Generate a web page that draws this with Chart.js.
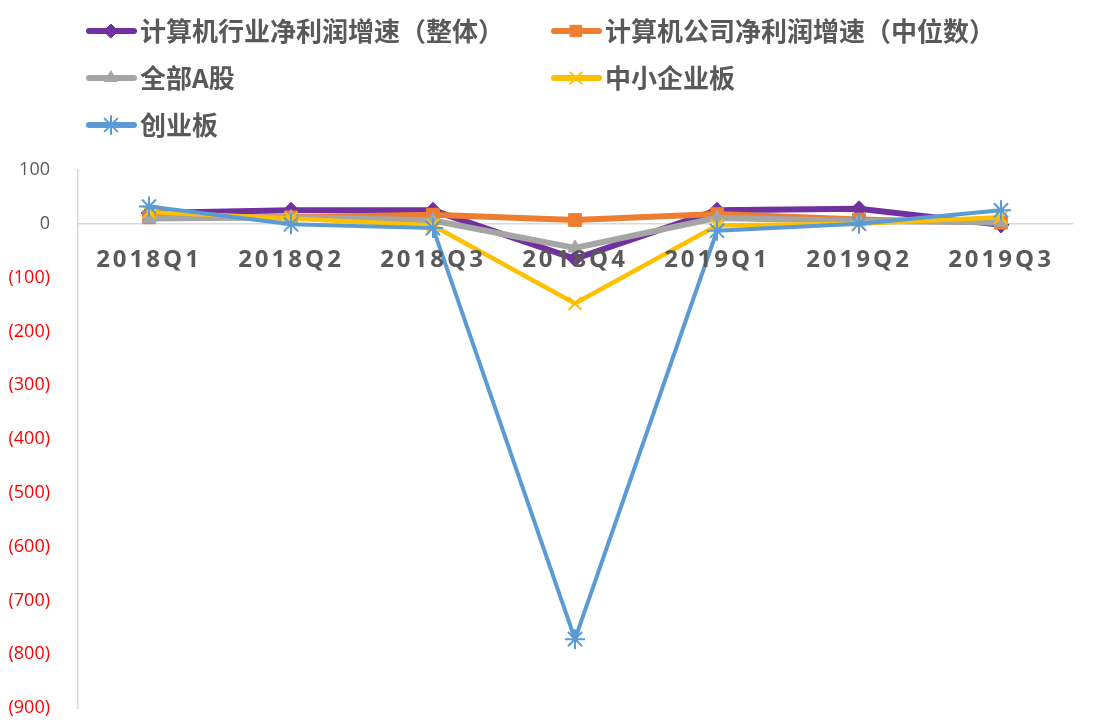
<!DOCTYPE html>
<html>
<head>
<meta charset="utf-8">
<script src="https://cdn.jsdelivr.net/npm/chart.js@4"></script>
<style>
  html, body { margin: 0; padding: 0; background: #fff; }
  #wrap { width: 1109px; height: 720px; }
</style>
</head>
<body>
<div id="wrap"><canvas id="c" width="1109" height="720"></canvas></div>
<script>
// categories
const quarters = ['2018Q1', '2018Q2', '2018Q3', '2018Q4', '2019Q1', '2019Q2', '2019Q3'];

// series (profit growth, %)
const industryTotal = [20, 25, 25, -65, 25, 28, -2];
const companyMedian = [12, 12, 17, 7, 18, 8, 2];
const allAShares = [10, 12, 6, -45, 11, 5, 3];
const smeBoard = [22, 10, -3, -148, -3, 0, 12];
const chinext = [32, -1, -8, -772, -13, 0, 25];

const seriesNames = ['计算机行业净利润增速（整体）', '计算机公司净利润增速（中位数）', '全部A股', '中小企业板', '创业板'];
const seriesColors = ['#7030A0', '#ED7D31', '#A5A5A5', '#FFC000', '#5B9BD5'];

// y ticks
const yMin = -900, yMax = 100, yStep = 100;

var TEXT = '#595959';

function mk(i, data, style, radius, width) {
  return {
    label: seriesNames[i],
    data: data,
    borderColor: seriesColors[i],
    backgroundColor: seriesColors[i],
    borderWidth: width,
    pointStyle: style,
    pointRadius: radius,
    pointHoverRadius: radius,
    pointBorderWidth: (style === 'crossRot' || style === 'star') ? 2 : 1,
    tension: 0,
    order: 5 - i   // later series on top, like excel
  };
}

var datasets = [
  mk(0, industryTotal, 'rectRot', 8, 6),
  mk(1, companyMedian, 'rect', 9, 6),
  mk(2, allAShares, 'triangle', 8, 6),
  mk(3, smeBoard, 'crossRot', 9, 4.5),
  mk(4, chinext, 'star', 10, 4)
];

// legend drawn by hand, 2 columns like the original
var legendPlugin = {
  id: 'xlLegend',
  afterDraw: function(chart) {
    var ctx = chart.ctx;
    ctx.save();
    ctx.letterSpacing = '0px';
    ctx.font = 'bold 26px "Noto Sans CJK SC"';
    ctx.textBaseline = 'middle';
    ctx.textAlign = 'left';
    chart.data.datasets.forEach(function(ds, i) {
      var col = i % 2, row = Math.floor(i / 2);
      var x0 = col ? 554 : 89;
      var y = 31 + row * 47;
      ctx.strokeStyle = ds.borderColor;
      ctx.fillStyle = ds.borderColor;
      ctx.lineWidth = 6;
      ctx.lineCap = 'round';
      ctx.beginPath();
      ctx.moveTo(x0, y);
      ctx.lineTo(x0 + 45, y);
      ctx.stroke();
      ctx.lineWidth = ds.pointBorderWidth;
      Chart.helpers.drawPoint(ctx, {pointStyle: ds.pointStyle, rotation: 0, radius: ds.pointRadius - 1, borderWidth: ds.pointBorderWidth}, x0 + 22, y);
      ctx.fillStyle = TEXT;
      ctx.fillText(ds.label, x0 + 51, y);
    });
    ctx.restore();
  }
};

// spaced-out x labels (drawn after datasets, ticks.z = 1)
var spacingPlugin = {
  id: 'spacing',
  afterDatasetsDraw: function(chart) { chart.ctx.letterSpacing = '3px'; },
  afterDraw: function(chart) { chart.ctx.letterSpacing = '0px'; }
};

new Chart(document.getElementById('c'), {
  type: 'line',
  data: { labels: quarters, datasets: datasets },
  options: {
    responsive: false,
    animation: false,
    layout: { padding: { top: 170, right: 37, bottom: 11, left: 0 } },
    plugins: {
      legend: { display: false },
      tooltip: { enabled: false }
    },
    scales: {
      x: {
        position: { y: 0 },
        offset: true,
        grid: { display: false },
        border: { display: true, color: '#D9D9D9', width: 1.5 },
        afterFit: function(scale) { scale.height = 0; },
        ticks: {
          z: 1,
          padding: 14,
          color: TEXT,
          maxRotation: 0,
          font: { family: '"Open Sans"', size: 24, weight: 'bold' }
        }
      },
      y: {
        min: yMin,
        max: yMax,
        grid: { display: false },
        border: { display: true, color: '#D9D9D9', width: 1.5 },
        afterFit: function(scale) { scale.width = 78; scale.paddingTop = 0; scale.paddingBottom = 0; },
        ticks: {
          stepSize: yStep,
          padding: 20,
          font: { family: '"Open Sans"', size: 18 },
          color: function(c) { return c.tick && c.tick.value < 0 ? '#FF0000' : TEXT; },
          callback: function(v) { return v < 0 ? '(' + Math.abs(v) + ')' : String(v); }
        }
      }
    }
  },
  plugins: [legendPlugin, spacingPlugin]
});
</script>
</body>
</html>
